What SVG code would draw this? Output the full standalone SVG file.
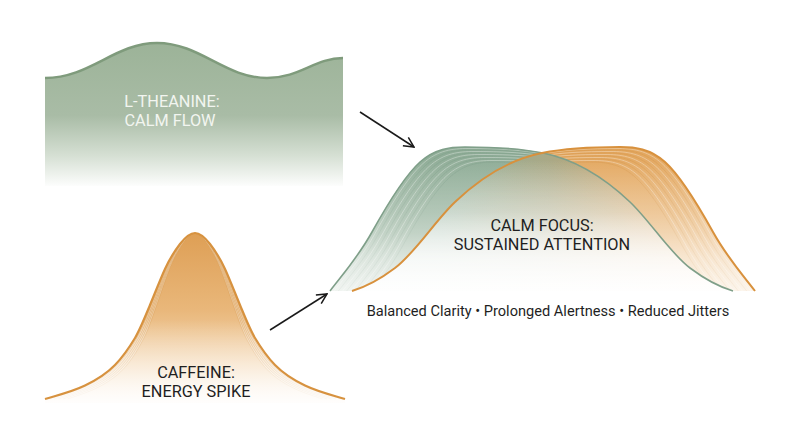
<svg xmlns="http://www.w3.org/2000/svg" xmlns:xlink="http://www.w3.org/1999/xlink" width="800" height="447" viewBox="0 0 800 447">
  <style>
    .lbl { font-family: Roboto, "Liberation Sans", Arial, sans-serif; font-size: 16.3px; text-anchor: middle; }
    .dark { fill: #1f1f1f; }
    .light { fill: #f2f5f0; }
    .sub { font-family: Roboto, "Liberation Sans", Arial, sans-serif; font-size: 14.6px; text-anchor: middle; fill: #1f1f1f; }
    .arrow { stroke: #1a1a1a; stroke-width: 1.5; fill: none; marker-end: url(#open); }
    .stripeL { fill: none; stroke: #ffffff; stroke-opacity: 0.4; stroke-width: 0.8; }
    .stripeGD { fill: none; stroke: #6f917b; stroke-opacity: 0.3; stroke-width: 0.7; }
    .stripeOD { fill: none; stroke: #c98534; stroke-opacity: 0.3; stroke-width: 0.7; }
  </style>
  <defs>
    <marker id="open" viewBox="0 0 12 12" refX="11" refY="6" markerWidth="12" markerHeight="12" markerUnits="userSpaceOnUse" orient="auto">
      <path d="M1,1 L11,6 L1,11" fill="none" stroke="#1a1a1a" stroke-width="1.5"/>
    </marker>
    <linearGradient id="gWave" x1="0" y1="43" x2="0" y2="188" gradientUnits="userSpaceOnUse">
      <stop offset="0" stop-color="#9cb398"/>
      <stop offset="0.5" stop-color="#a9bca6"/>
      <stop offset="0.78" stop-color="#d6e0d4"/>
      <stop offset="1" stop-color="#ffffff"/>
    </linearGradient>
    <linearGradient id="gBell" x1="0" y1="233" x2="0" y2="403" gradientUnits="userSpaceOnUse">
      <stop offset="0" stop-color="#de9f55"/>
      <stop offset="0.45" stop-color="#e9b77a"/>
      <stop offset="0.8" stop-color="#f5dcbc"/>
      <stop offset="1" stop-color="#fdf7ef"/>
    </linearGradient>
    <linearGradient id="gGreenR" x1="0" y1="147" x2="0" y2="291" gradientUnits="userSpaceOnUse">
      <stop offset="0" stop-color="#8dab95"/>
      <stop offset="0.6" stop-color="#a9c0ae"/>
      <stop offset="1" stop-color="#dde6de"/>
    </linearGradient>
    <linearGradient id="gOrangeR" x1="0" y1="147" x2="0" y2="291" gradientUnits="userSpaceOnUse">
      <stop offset="0" stop-color="#e2a55c"/>
      <stop offset="0.6" stop-color="#edc491"/>
      <stop offset="1" stop-color="#f8e6cf"/>
    </linearGradient>
    <linearGradient id="gMix" x1="440" y1="0" x2="700" y2="0" gradientUnits="userSpaceOnUse">
      <stop offset="0" stop-color="#92b09b"/>
      <stop offset="0.42" stop-color="#aaa986"/>
      <stop offset="1" stop-color="#e2a45d"/>
    </linearGradient>
    <linearGradient id="gFadeR" x1="0" y1="160" x2="0" y2="292" gradientUnits="userSpaceOnUse">
      <stop offset="0" stop-color="#ffffff" stop-opacity="0"/>
      <stop offset="0.4" stop-color="#ffffff" stop-opacity="0.3"/>
      <stop offset="0.75" stop-color="#ffffff" stop-opacity="0.75"/>
      <stop offset="1" stop-color="#ffffff" stop-opacity="0.97"/>
    </linearGradient>
    <linearGradient id="gFadeB" x1="0" y1="320" x2="0" y2="404" gradientUnits="userSpaceOnUse">
      <stop offset="0" stop-color="#ffffff" stop-opacity="0"/>
      <stop offset="1" stop-color="#ffffff" stop-opacity="0.85"/>
    </linearGradient>
    <path id="greenCurve" d="M330,291 C344,272.8 358,257.2 372,232 C388,203.2 404,176.4 420,162 C435,148.5 450,147 465,147 C491,147 517,147.8 543,153 C572,158.8 601,174.5 630,202 C650,221 670,253 690,268 C704.3,278.8 718.7,286.7 733,291"/>
    <path id="orangeCurve" d="M352,291 C366.3,286.7 380.7,278.8 395,268 C415,253 435,221 455,202 C484,174.5 513,158.8 542,153 C568,147.8 594,147 620,147 C635,147 650,148.5 665,162 C681,176.4 697,203.2 713,232 C727,257.2 741,272.8 755,291"/>
    <path id="bellCurve" d="M45,399 C58.3,395 71.7,391.9 85,385.5 C95,380.7 105,375.3 115,365 C121.7,358.1 128.3,349.2 135,338 C140,329.6 145,317 150,305 C155,293 160,280 165,269 C170,258 175,250.5 180,244 C185,237.5 190,233 195,233 C200,233 205,237.5 210,244 C215,250.5 220,258 225,269 C230,280 235,293 240,305 C245,317 250,329.6 255,338 C261.7,349.2 268.3,358.1 275,365 C285,375.3 295,380.7 305,385.5 C318.3,391.9 331.7,395 345,399"/>
    <clipPath id="clipGreen">
      <path d="M330,291 C344,272.8 358,257.2 372,232 C388,203.2 404,176.4 420,162 C435,148.5 450,147 465,147 C491,147 517,147.8 543,153 C572,158.8 601,174.5 630,202 C650,221 670,253 690,268 C704.3,278.8 718.7,286.7 733,291 Z"/>
    </clipPath>
    <clipPath id="clipOrange">
      <path d="M352,291 C366.3,286.7 380.7,278.8 395,268 C415,253 435,221 455,202 C484,174.5 513,158.8 542,153 C568,147.8 594,147 620,147 C635,147 650,148.5 665,162 C681,176.4 697,203.2 713,232 C727,257.2 741,272.8 755,291 Z"/>
    </clipPath>
    <clipPath id="clipBell">
      <path d="M45,399 C58.3,395 71.7,391.9 85,385.5 C95,380.7 105,375.3 115,365 C121.7,358.1 128.3,349.2 135,338 C140,329.6 145,317 150,305 C155,293 160,280 165,269 C170,258 175,250.5 180,244 C185,237.5 190,233 195,233 C200,233 205,237.5 210,244 C215,250.5 220,258 225,269 C230,280 235,293 240,305 C245,317 250,329.6 255,338 C261.7,349.2 268.3,358.1 275,365 C285,375.3 295,380.7 305,385.5 C318.3,391.9 331.7,395 345,399 L345,403 L45,403 Z"/>
    </clipPath>
  </defs>

  <rect width="800" height="447" fill="#ffffff"/>

  <!-- L-Theanine node -->
  <g id="node-ltheanine">
    <path d="M45,78 C90,78 115,43 157,43 C200,43 225,78 267,78 C300,78 315,58 343,58 L343,186 L45,186 Z" fill="url(#gWave)"/>
    <path d="M45,78 C90,78 115,43 157,43 C200,43 225,78 267,78 C300,78 315,58 343,58" fill="none" stroke="#7f9b7c" stroke-width="2.5"/>
    <text class="lbl light" x="172" y="107">L-THEANINE:</text>
    <text class="lbl light" x="170" y="126">CALM FLOW</text>
  </g>

  <!-- Caffeine node -->
  <g id="node-caffeine">
    <path d="M45,399 C58.3,395 71.7,391.9 85,385.5 C95,380.7 105,375.3 115,365 C121.7,358.1 128.3,349.2 135,338 C140,329.6 145,317 150,305 C155,293 160,280 165,269 C170,258 175,250.5 180,244 C185,237.5 190,233 195,233 C200,233 205,237.5 210,244 C215,250.5 220,258 225,269 C230,280 235,293 240,305 C245,317 250,329.6 255,338 C261.7,349.2 268.3,358.1 275,365 C285,375.3 295,380.7 305,385.5 C318.3,391.9 331.7,395 345,399 L345,403 L45,403 Z" fill="url(#gBell)"/>
    <g clip-path="url(#clipBell)">
      <use href="#bellCurve" class="stripeL" transform="translate(195 0) scale(0.985 1) translate(-195 0)"/>
      <use href="#bellCurve" class="stripeOD" transform="translate(195 0) scale(0.97 1) translate(-195 0)"/>
      <use href="#bellCurve" class="stripeL" transform="translate(195 0) scale(0.955 1) translate(-195 0)"/>
      <use href="#bellCurve" class="stripeOD" transform="translate(195 0) scale(0.94 1) translate(-195 0)"/>
      <use href="#bellCurve" class="stripeL" transform="translate(195 0) scale(0.925 1) translate(-195 0)"/>
      <use href="#bellCurve" class="stripeOD" transform="translate(195 0) scale(0.91 1) translate(-195 0)"/>
      <use href="#bellCurve" class="stripeL" transform="translate(195 0) scale(0.895 1) translate(-195 0)"/>
      <use href="#bellCurve" class="stripeOD" transform="translate(195 0) scale(0.88 1) translate(-195 0)"/>
      <use href="#bellCurve" class="stripeL" transform="translate(195 0) scale(0.865 1) translate(-195 0)"/>
      <use href="#bellCurve" class="stripeOD" transform="translate(195 0) scale(0.85 1) translate(-195 0)"/>
      <rect x="40" y="300" width="310" height="105" fill="url(#gFadeB)"/>
    </g>
    <use href="#bellCurve" fill="none" stroke="#d7923f" stroke-width="2.2"/>
    <text class="lbl dark" x="196" y="378">CAFFEINE:</text>
    <text class="lbl dark" x="196" y="397">ENERGY SPIKE</text>
  </g>

  <!-- Calm Focus node -->
  <g id="node-calmfocus">
    <use href="#greenCurve" fill="url(#gGreenR)"/>
    <g clip-path="url(#clipGreen)">
      <use href="#greenCurve" class="stripeL" transform="translate(3 1.5)"/>
      <use href="#greenCurve" class="stripeGD" transform="translate(6 3)"/>
      <use href="#greenCurve" class="stripeL" transform="translate(9 4.5)"/>
      <use href="#greenCurve" class="stripeGD" transform="translate(12 6)"/>
      <use href="#greenCurve" class="stripeL" transform="translate(15 7.5)"/>
      <use href="#greenCurve" class="stripeGD" transform="translate(18 9)"/>
      <use href="#greenCurve" class="stripeL" transform="translate(21 10.5)"/>
      <use href="#greenCurve" class="stripeGD" transform="translate(24 12)"/>
      <use href="#greenCurve" class="stripeL" transform="translate(27 13.5)"/>
      <use href="#greenCurve" class="stripeGD" transform="translate(30 15)"/>
    </g>
    <use href="#orangeCurve" fill="url(#gOrangeR)"/>
    <g clip-path="url(#clipOrange)">
      <use href="#orangeCurve" class="stripeL" transform="translate(-3 1.5)"/>
      <use href="#orangeCurve" class="stripeOD" transform="translate(-6 3)"/>
      <use href="#orangeCurve" class="stripeL" transform="translate(-9 4.5)"/>
      <use href="#orangeCurve" class="stripeOD" transform="translate(-12 6)"/>
      <use href="#orangeCurve" class="stripeL" transform="translate(-15 7.5)"/>
      <use href="#orangeCurve" class="stripeOD" transform="translate(-18 9)"/>
      <use href="#orangeCurve" class="stripeL" transform="translate(-21 10.5)"/>
      <use href="#orangeCurve" class="stripeOD" transform="translate(-24 12)"/>
      <use href="#orangeCurve" class="stripeL" transform="translate(-27 13.5)"/>
      <use href="#orangeCurve" class="stripeOD" transform="translate(-30 15)"/>
    </g>
    <g clip-path="url(#clipGreen)">
      <use href="#orangeCurve" fill="url(#gMix)"/>
    </g>
    <g clip-path="url(#clipGreen)">
      <use href="#orangeCurve" fill="url(#gFadeR)"/>
    </g>
    <g clip-path="url(#clipOrange)">
      <rect x="330" y="140" width="430" height="152" fill="url(#gFadeR)" opacity="0.6"/>
    </g>
    <g clip-path="url(#clipGreen)">
      <rect x="325" y="140" width="430" height="152" fill="url(#gFadeR)" opacity="0.6"/>
    </g>
    <use href="#greenCurve" fill="none" stroke="#7f9f89" stroke-width="1.6"/>
    <use href="#orangeCurve" fill="none" stroke="#d8913d" stroke-width="2"/>
    <text class="lbl dark" x="542" y="231">CALM FOCUS:</text>
    <text class="lbl dark" x="542" y="250">SUSTAINED ATTENTION</text>
    <text class="sub" x="548" y="316">Balanced Clarity • Prolonged Alertness • Reduced Jitters</text>
  </g>

  <!-- Connectors -->
  <g id="connectors">
    <line class="arrow" x1="360" y1="112" x2="414" y2="147"/>
    <line class="arrow" x1="270" y1="330" x2="327" y2="294"/>
  </g>
</svg>
